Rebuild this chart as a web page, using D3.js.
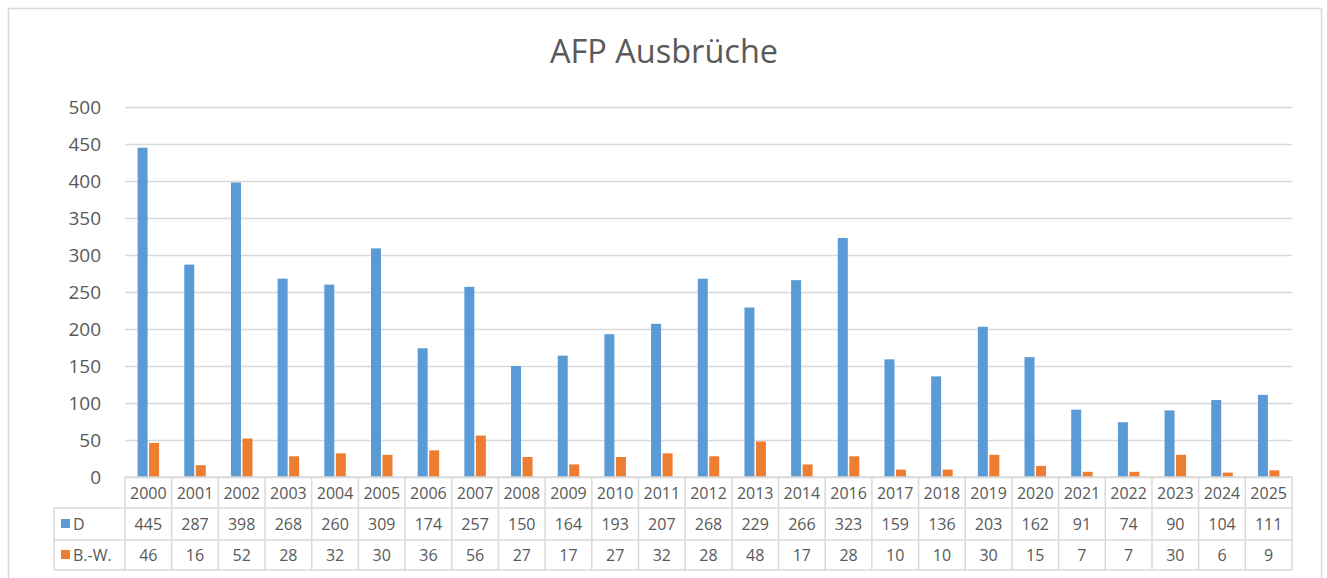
<!DOCTYPE html>
<html>
<head>
<meta charset="utf-8">
<script src="https://cdn.jsdelivr.net/npm/d3@7"></script>
<style>
  body { margin: 0; background: #fff; }
  svg { display: block; font-family: 'Open Sans', sans-serif; }
</style>
</head>
<body>
<svg id="chart" width="1327" height="578"></svg>
<script>
const years = ['2000','2001','2002','2003','2004','2005','2006','2007','2008','2009','2010','2011','2012','2013','2014','2016','2017','2018','2019','2020','2021','2022','2023','2024','2025']
const seriesD = [445,287,398,268,260,309,174,257,150,164,193,207,268,229,266,323,159,136,203,162,91,74,90,104,111]
const seriesBW = [46,16,52,28,32,30,36,56,27,17,27,32,28,48,17,28,10,10,30,15,7,7,30,6,9]
const seriesNames = ['D', 'B.-W.']
const yTicks = [0,50,100,150,200,250,300,350,400,450,500]

const colors = ['#5b9bd5', '#ed7d31']
const textColor = '#595959'
const gridColor = '#d9d9d9'
const plot = { left: 125, right: 1292, top: 107, bottom: 477 }
const rows = [477, 508, 540, 570]
const legendLeft = 54

const svg = d3.select('#chart')

// outer frame
svg.append('rect')
	.attr('x', 8.5).attr('y', 8.5).attr('width', 1313).attr('height', 600)
	.attr('fill', 'none').attr('stroke', gridColor).attr('stroke-width', 1.5)

svg.append('text')
	.attr('x', 664).attr('y', 63)
	.attr('text-anchor', 'middle').attr('fill', textColor)
	.style('font-size', '32.5px')
	.text('AFP Ausbrüche')

const x = d3.scaleBand().domain(years).range([plot.left, plot.right])
const y = d3.scaleLinear().domain([0, 500]).range([plot.bottom, plot.top])

const yAxis = svg.append('g')
	.attr('transform', `translate(${plot.left}, 0)`)
	.call(d3.axisLeft(y).tickValues(yTicks).tickSize(-(plot.right - plot.left)).tickPadding(24))
yAxis.select('.domain').remove()
yAxis.selectAll('line').attr('stroke', gridColor).attr('stroke-width', 1.5)
yAxis.selectAll('text').attr('fill', textColor).style('font-size', '19px').style('font-family', "'Open Sans', sans-serif")

const barWidth = 10
const barGap = 1.5
const sets = [seriesD, seriesBW]

sets.forEach((set, i) => {
	svg.append('g').selectAll('rect').data(set)
		.enter().append('rect')
		.attr('fill', colors[i])
		.attr('x', (d, j) => x(years[j]) + x.bandwidth() / 2 + (i === 0 ? -barWidth - barGap / 2 : barGap / 2))
		.attr('width', barWidth)
		.attr('y', d => y(d))
		.attr('height', d => y(0) - y(d))
})

// data table
const table = svg.append('g').attr('stroke', gridColor).attr('stroke-width', 1.5)
table.append('line').attr('x1', plot.left).attr('x2', plot.right).attr('y1', rows[0]).attr('y2', rows[0])
rows.slice(1).forEach(r => {
	table.append('line').attr('x1', legendLeft).attr('x2', plot.right).attr('y1', r).attr('y2', r)
})
table.append('line').attr('x1', legendLeft).attr('x2', legendLeft).attr('y1', rows[1]).attr('y2', rows[3])
table.selectAll('.vline').data(years.concat(['end']))
	.enter().append('line')
	.attr('x1', (d, j) => j < years.length ? x(d) : plot.right)
	.attr('x2', (d, j) => j < years.length ? x(d) : plot.right)
	.attr('y1', rows[0]).attr('y2', rows[3])

const cellText = svg.append('g').attr('fill', textColor).attr('text-anchor', 'middle').style('font-size', '16px')
cellText.selectAll('.yr').data(years).enter().append('text')
	.attr('x', d => x(d) + x.bandwidth() / 2).attr('y', (rows[0] + rows[1]) / 2 + 6)
	.text(d => d)
sets.forEach((set, i) => {
	const cy = (rows[i + 1] + rows[i + 2]) / 2 + 6
	cellText.append('g').selectAll('text').data(set).enter().append('text')
		.attr('x', (d, j) => x(years[j]) + x.bandwidth() / 2).attr('y', cy)
		.text(d => d)
	svg.append('rect')
		.attr('x', 61).attr('y', cy - 11).attr('width', 9).attr('height', 9)
		.attr('fill', colors[i])
	svg.append('text')
		.attr('x', 73).attr('y', cy).attr('fill', textColor).style('font-size', '16px')
		.text(seriesNames[i])
})
</script>
</body>
</html>
